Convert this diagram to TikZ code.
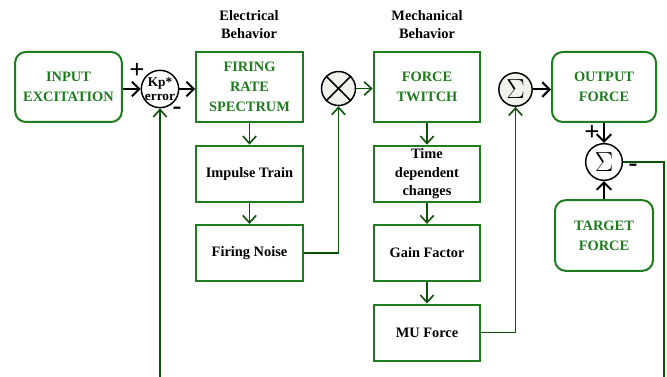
\documentclass[tikz,border=0pt]{standalone}
\usepackage{fontspec}
\setmainfont{Liberation Serif}
\usetikzlibrary{positioning}
\usetikzlibrary{arrows.meta}
\definecolor{boxgreen}{HTML}{1E7B1E}
\definecolor{linegreen}{HTML}{0B500B}
\definecolor{sumfill}{HTML}{F2F2EC}
\tikzset{
        block/.style={
          draw=boxgreen, line width=1.5pt, align=center, inner sep=0pt,
          font=\bfseries\fontsize{10.8}{15}\selectfont
          },
        green block/.style={block, text=boxgreen, minimum width=80pt, minimum height=52.5pt},
        round block/.style={green block, rounded corners=8pt},
        small block/.style={block, minimum width=80pt, minimum height=42pt, font=\bfseries\fontsize{10.8}{14.2}\selectfont},
        junction/.style={circle, draw, line width=1.1pt, inner sep=0pt, minimum size=25pt, align=center},
        sum/.style={junction, inner sep=-2pt, font=\fontsize{20}{20}\selectfont},
        head/.style={font=\bfseries\fontsize{10.8}{13.8}\selectfont, align=center},
        sign/.style={font=\bfseries\fontsize{20}{20}\selectfont, inner sep=0pt},
        arrow black/.style={draw=black, line width=1.5pt, -{Straight Barb[length=5.5pt,width=11pt]}},
        arrow green/.style={draw=linegreen, line width=1.2pt, -{Straight Barb[length=5.5pt,width=10pt]}},
        wire green/.style={draw=linegreen, line width=1.2pt},
}

\begin{document}
\begin{tikzpicture}[x=0.75pt, y=-0.75pt]
      \useasboundingbox (0,0) rectangle (667,377);
      % HEADERS
      \node[head] (elec) at (249,24.5) {Electrical\\Behavior};
      \node[head] (mech) at (427,24.5) {Mechanical\\Behavior};

      % TOP ROW
      \node[round block, minimum width=80pt] (input) at (68.5,87) {INPUT\\EXCITATION};
      \node[junction, minimum size=28pt, inner sep=-3pt, font=\bfseries\fontsize{10}{10.5}\selectfont] (kp) at (160,89) {Kp*\\error};
      \node[green block] (firing) at (249.5,87) {FIRING\\RATE\\SPECTRUM};
      \node[junction, fill=sumfill, minimum size=25.5pt] (mult) at (338.5,88.5) {};
      \draw[line width=1.1pt] (mult.45) -- (mult.225) (mult.135) -- (mult.315);
      \node[sum, fill=sumfill, minimum size=25pt] (sumA) at (515.5,89.5) {$\Sigma$};
      \node[green block] (twitch) at (427,87) {FORCE\\TWITCH};
      \node[round block, minimum width=78pt] (output) at (604,87) {OUTPUT\\FORCE};

      % ELECTRICAL COLUMN
      \node[small block, below=16.2pt of firing] (impulse) {Impulse Train};
      \node[small block, below=16pt of impulse] (noise) {Firing Noise};

      % MECHANICAL COLUMN
      \node[small block, below=16.2pt of twitch, font=\bfseries\fontsize{10.8}{13.8}\selectfont] (timedep) {Time\\dependent\\changes};
      \node[small block, below=16pt of timedep] (gain) {Gain Factor};
      \node[small block, below=16.2pt of gain] (muforce) {MU Force};

      % ERROR LOOP
      \node[sum, minimum size=27.5pt] (sumB) at (604,162) {$\Sigma$};
      \node[round block, minimum width=73.5pt, minimum height=53pt] (target) at (604,235.5) {TARGET\\FORCE};

      % signs
      \node[sign] (kpplus) at (137,71) {+};
      \node[sign] (kpminus) at (177,111) {-};
      \node[sign] (sumplus) at (592,133) {+};
      \node[sign] (summinus) at (633,168) {-};

      % WIRING
      \draw[arrow black] (input.east |- kp.west) -- (kp.west);
      \draw[arrow black] (kp.east) -- (kp.east -| firing.west);
      \draw[arrow green] (mult.east) -- (mult.east -| twitch.west);
      \draw[arrow black] (sumA.east) -- (sumA.east -| output.west);
      \draw[arrow green] (firing.south) -- (impulse.north);
      \draw[arrow green] (impulse.south) -- (noise.north);
      \draw[arrow green] (noise.east) -| (mult.south);
      \draw[arrow green] (twitch.south) -- (timedep.north);
      \draw[arrow green] (timedep.south) -- (gain.north);
      \draw[arrow green] (gain.south) -- (muforce.north);
      \draw[arrow green] (muforce.east) -| (sumA.south);
      \draw[arrow black] (output.south) -- (sumB.north);
      \draw[arrow black] (target.north) -- (sumB.south);
      % feedback to the error node
      \coordinate (fbout) at (664,377);
      \coordinate (fbin) at (160,377);
      \draw[wire green] (sumB.east) -| (fbout);
      \draw[arrow green] (fbin) -- (kp.south);
\end{tikzpicture}
\end{document}
